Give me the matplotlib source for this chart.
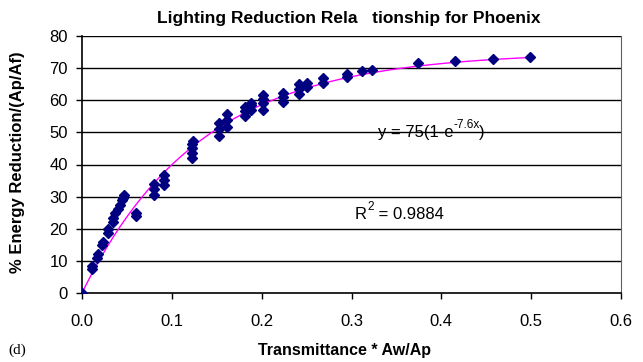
import numpy as np
import matplotlib
matplotlib.use("Agg")
import matplotlib.pyplot as plt

plt.rcParams["font.family"] = ["Liberation Sans", "DejaVu Sans"]

# ── data ──────────────────────────────────────────────────────
trans = [0.0,
         0.0115, 0.0115, 0.017, 0.018, 0.0226, 0.0235, 0.0286, 0.029,
         0.034, 0.035, 0.0368, 0.040, 0.042, 0.044, 0.046, 0.047,
         0.060, 0.060,
         0.080, 0.080, 0.080, 0.0915, 0.0915, 0.0915,
         0.123, 0.123, 0.123, 0.123, 0.124,
         0.1525, 0.1525, 0.1525, 0.161, 0.161, 0.161,
         0.182, 0.182, 0.182, 0.188, 0.188, 0.188,
         0.201, 0.201, 0.201, 0.201,
         0.2235, 0.2235, 0.2235,
         0.242, 0.242, 0.242, 0.250, 0.250,
         0.2687, 0.2687,
         0.2955, 0.2955,
         0.3115, 0.3226,
         0.3738, 0.4157, 0.457, 0.4989]
reduction = [0.0,
             7.5, 8.3, 11.0, 12.0, 15.0, 16.0, 18.6, 20.0,
             22.2, 23.3, 24.8, 26.0, 27.4, 28.8, 29.6, 30.4,
             24.0, 25.0,
             30.5, 32.4, 34.0, 33.6, 35.2, 36.6,
             42.0, 43.5, 45.0, 46.5, 47.2,
             49.0, 51.0, 52.9, 51.6, 54.0, 55.8,
             55.0, 56.5, 58.0, 57.0, 58.5, 59.1,
             57.0, 59.2, 60.5, 61.6,
             59.6, 61.0, 62.2,
             62.0, 63.6, 65.2, 64.0, 65.5,
             65.4, 66.8,
             67.3, 68.2,
             69.2, 69.4,
             71.6, 72.3, 72.9, 73.4]

# trend line shown in the chart: y = 75(1-e^(-7.6x))
fit_a = 75.0
fit_k = 7.6
fit_x = np.linspace(0.0, 0.5, 200)
fit_y = fit_a * (1 - np.exp(-fit_k * fit_x))

xticks = [0.0, 0.1, 0.2, 0.3, 0.4, 0.5, 0.6]
yticks = [0, 10, 20, 30, 40, 50, 60, 70, 80]

# ── plot ──────────────────────────────────────────────────────
fig = plt.figure(figsize=(6.43, 3.62), dpi=100)
ax = fig.add_axes([82 / 643, 1 - 293 / 362, 539 / 643, 257 / 362])

for yv in yticks[1:]:
    ax.axhline(yv, color="black", linewidth=1.0, zorder=1)

ax.plot(fit_x, fit_y, color="#ff00ff", linewidth=1.0, zorder=2)
ax.plot(trans, reduction, linestyle="none", marker="D", markersize=5.5,
        color="#000080", markeredgecolor="#000080", zorder=3)

ax.set_xlim(0, 0.6)
ax.set_ylim(0, 80)
ax.set_xticks(xticks)
ax.set_xticklabels([f"{v:.1f}" for v in xticks])
ax.set_yticks(yticks)
ax.tick_params(axis="both", direction="out", length=4, width=1,
               labelsize=12, colors="black")
ax.tick_params(axis="x", pad=11)
ax.tick_params(axis="y", pad=6)

ax.spines["top"].set_visible(False)
ax.spines["right"].set_color("#606060")
ax.spines["left"].set_linewidth(1.2)
ax.spines["bottom"].set_linewidth(1.2)

# equation / R^2 with plain-hyphen superscripts (Excel style)
eq = ax.text(0.329, 48.5, "y = 75(1-e", fontsize=12, va="baseline")
sup = ax.annotate("-7.6x", xy=(1, 0.62), xycoords=eq, fontsize=8.5,
                  ha="left", va="bottom")
ax.annotate(")", xy=(1, 0), xycoords=(sup, eq), fontsize=12,
            ha="left", va="bottom")

r2 = ax.text(0.304, 23.0, "R", fontsize=12, va="baseline")
r2s = ax.annotate("2", xy=(1, 0.62), xycoords=r2, fontsize=8.5,
                  ha="left", va="bottom")
ax.annotate(" = 0.9884", xy=(1, 0), xycoords=(r2s, r2), fontsize=12,
            ha="left", va="bottom")

fig.text(349 / 643, 1 - 19 / 362, "Lighting Reduction Rela   tionship for Phoenix",
         ha="center", va="center", fontsize=12.5, fontweight="bold")
fig.text(18 / 643, 1 - 162 / 362, "% Energy Reduction/(Ap/Af)", rotation=90,
         ha="center", va="center", fontsize=12, fontweight="bold")
fig.text(345 / 643, 1 - 350 / 362, "Transmittance * Aw/Ap",
         ha="center", va="center", fontsize=11.5, fontweight="bold")
fig.text(8 / 643, 1 - 350 / 362, "(d)", ha="left", va="center",
         fontsize=11, family=["Liberation Serif", "DejaVu Serif"])

fig.savefig("out.png", dpi=100)
